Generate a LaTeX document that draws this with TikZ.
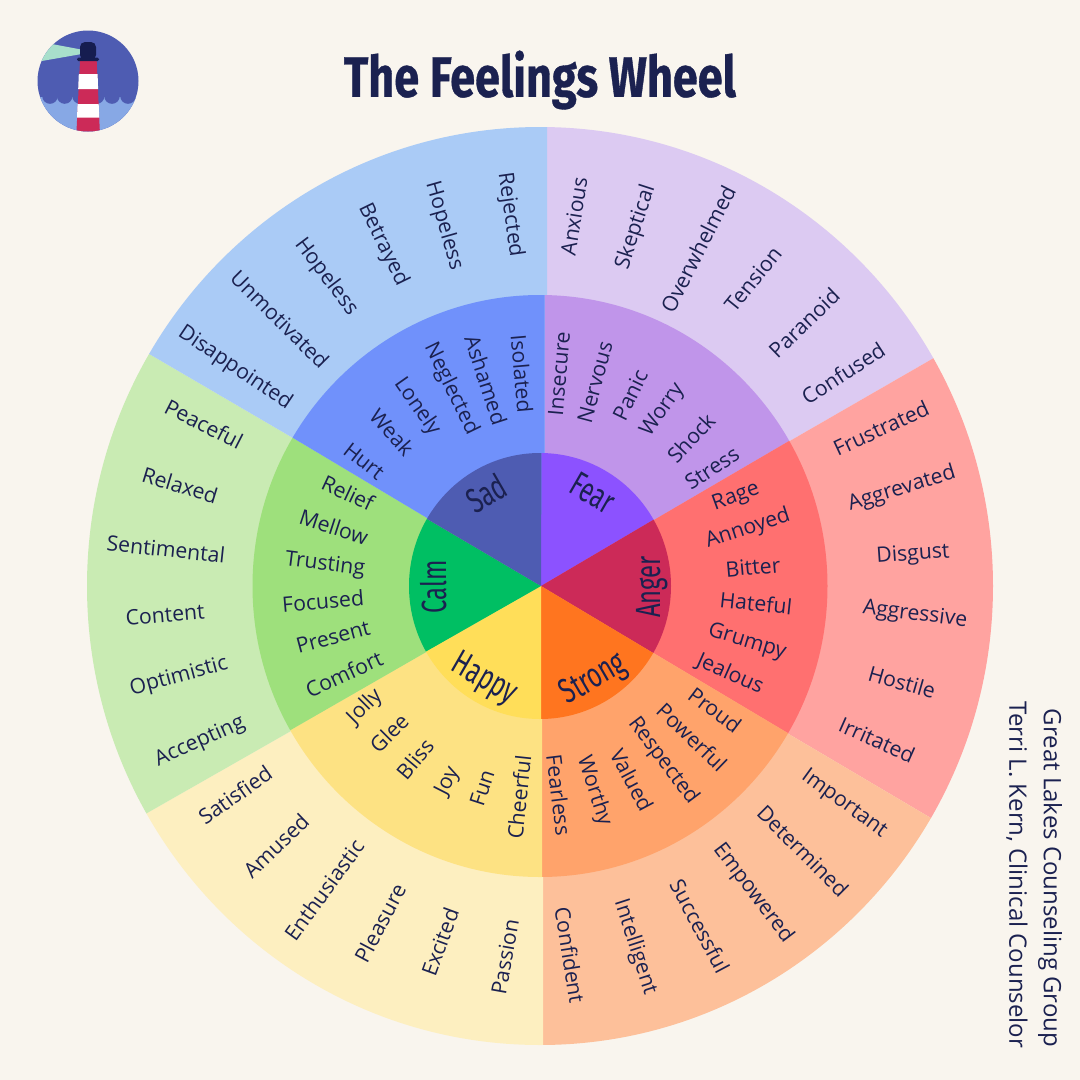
\documentclass[tikz,border=0pt]{standalone}
\usepackage{fontspec}
\setmainfont{Open Sans}
\newfontfamily\titlefont[FakeStretch=0.79,FakeBold=0.6]{Fira Sans Bold}
\newfontfamily\corefont[FakeStretch=0.68]{Fira Sans}
\definecolor{bg}{HTML}{F9F5EE}
\definecolor{ink}{HTML}{1B2150}
\definecolor{fearA}{HTML}{DCCAF2}\definecolor{fearB}{HTML}{C095EA}\definecolor{fearC}{HTML}{8C52FF}
\definecolor{angerA}{HTML}{FFA3A0}\definecolor{angerB}{HTML}{FF7070}\definecolor{angerC}{HTML}{CC2A58}
\definecolor{strongA}{HTML}{FDC09A}\definecolor{strongB}{HTML}{FFA36B}\definecolor{strongC}{HTML}{FF751F}
\definecolor{happyA}{HTML}{FDEFC0}\definecolor{happyB}{HTML}{FDE283}\definecolor{happyC}{HTML}{FFDE59}
\definecolor{calmA}{HTML}{C9EBB3}\definecolor{calmB}{HTML}{9EE07C}\definecolor{calmC}{HTML}{00BF63}
\definecolor{sadA}{HTML}{AACBF6}\definecolor{sadB}{HTML}{7091FB}\definecolor{sadC}{HTML}{4E5CB2}
\definecolor{logoLight}{HTML}{87A8E5}\definecolor{logoBeam}{HTML}{A8DFCB}\definecolor{logoDark}{HTML}{161D50}
\tikzset{
  word/.style={text=ink,inner sep=0pt,font=\fontsize{21.2}{24}\selectfont},
  core/.style={text=ink,inner sep=0pt,font=\corefont\fontsize{35}{38}\selectfont},
  side/.style={text=ink,inner sep=0pt,rotate=-90,font=\fontsize{24}{28}\selectfont},
  headline/.style={text=ink,inner sep=0pt,font=\titlefont\fontsize{57}{60}\selectfont}
}
\newcommand{\Wd}[5]{\node[word,rotate=#4] (#1) at (#2,#3) {#5};}
\newcommand{\Cr}[5]{\node[core,rotate=#4] (#1) at (#2,#3) {#5};}
\begin{document}
\begin{tikzpicture}[x=1pt,y=-1pt]
\useasboundingbox (0,0) rectangle (1080,1080);
\fill[bg] (0,0) rectangle (1080,1080);
% outer ring
\begin{scope}
\clip (540,586) ellipse [x radius=453pt,y radius=459pt];
\fill[fearA] (547,586) -- (547,-100) -- (1300,-100) -- (1300,147) -- (788,442) -- cycle;
\fill[angerA] (540,586) -- (788,442) -- (1300,147) -- (1300,1036) -- (787,733) -- cycle;
\fill[strongA] (543,586) -- (787,733) -- (1300,1036) -- (1300,1200) -- (543,1200) -- cycle;
\fill[happyA] (543,586) -- (543,1200) -- (-200,1200) -- (-200,1011) -- (291,731) -- cycle;
\fill[calmA] (540,586) -- (291,731) -- (-200,1011) -- (-200,150) -- (293,438) -- cycle;
\fill[sadA] (547,586) -- (540,586) -- (293,438) -- (-200,150) -- (-200,-100) -- (547,-100) -- cycle;
\end{scope}
% middle ring
\begin{scope}
\clip (540,586) ellipse [x radius=287.5pt,y radius=291pt];
\fill[fearB] (544.5,586) -- (544.5,250) -- (850,250) -- (818,424) -- (541,586) -- cycle;
\fill[angerB] (541,586) -- (818,424) -- (900,424) -- (900,751) -- (818,751) -- cycle;
\fill[strongB] (542,586) -- (541,586) -- (818,751) -- (818,920) -- (542,920) -- cycle;
\fill[happyB] (542,586) -- (542,920) -- (261,920) -- (261,747) -- (541,586) -- cycle;
\fill[calmB] (541,586) -- (261,747) -- (200,747) -- (200,420) -- (263,420) -- cycle;
\fill[sadB] (544.5,586) -- (541,586) -- (263,420) -- (263,250) -- (544.5,250) -- cycle;
\end{scope}
% inner disc
\begin{scope}
\clip (540,586) ellipse [x radius=131pt,y radius=133pt];
\fill[fearC] (541,586) -- (541.5,440) -- (690,440) -- (675,507) -- cycle;
\fill[angerC] (541,586) -- (675,507) -- (690,507) -- (690,666) -- (675,666) -- cycle;
\fill[strongC] (541,586) -- (675,666) -- (675,730) -- (541,730) -- cycle;
\fill[happyC] (541,586) -- (541,730) -- (404,730) -- (404,664) -- cycle;
\fill[calmC] (541,586) -- (404,664) -- (395,664) -- (395,506) -- (405,506) -- cycle;
\fill[sadC] (541,586) -- (405,506) -- (405,440) -- (541.5,440) -- cycle;
\end{scope}
% logo
\begin{scope}
\clip (88,81) circle [radius=50.5pt];
\fill[sadC] (30,20) rectangle (150,140);
\fill[logoLight] (30,97) rectangle (150,140);
\foreach \cx in {50,64.7,80,96.7,112,128} \fill[sadC] (\cx,96) circle [radius=7.8pt];
\fill[logoBeam] (53.3,44.3) -- (80,49.3) -- (80,54.3) -- (41.7,61) -- (30,61) -- (30,44.3) -- cycle;
\fill[angerC] (80,61) -- (96.7,61) -- (100,135) -- (76.3,135) -- cycle;
\fill[white] (78.8,74) -- (97.6,74) -- (98.1,89) -- (78.2,89) -- cycle;
\fill[white] (77.6,104) -- (98.7,104) -- (99.2,117.7) -- (77,117.7) -- cycle;
\fill[logoDark,rounded corners=5pt] (80,42) rectangle (96,60);
\fill[logoDark,rounded corners=1.5pt] (77,57.5) rectangle (99,61);
\end{scope}
% title and credits
\node[headline] (title) at (540,80) {The Feelings Wheel};
\node[side] (credit1) at (1050,878) {Great Lakes Counseling Group};
\node[side] (credit2) at (1017,875) {Terri L. Kern, Clinical Counselor};
% core feelings
\Cr{sad}{486}{493}{30}{Sad}
\Cr{fear}{593}{493}{-30}{Fear}
\Cr{anger}{652}{587}{90}{Anger}
\Cr{strong}{594}{680}{30}{Strong}
\Cr{happy}{484}{680}{-30}{Happy}
\Cr{calm}{434}{587}{90}{Calm}
% fear
\Wd{fa1}{574}{216}{81}{Anxious}
\Wd{fa2}{636}{227}{72}{Skeptical}
\Wd{fa3}{698}{249}{63}{Overwhelmed}
\Wd{fa4}{753}{279}{51}{Tension}
\Wd{fa5}{804}{323}{44}{Paranoid}
\Wd{fa6}{843}{373}{33}{Confused}
\Wd{fb1}{559}{374}{85}{Insecure}
\Wd{fb2}{595}{382}{75}{Nervous}
\Wd{fb3}{630}{395}{64}{Panic}
\Wd{fb4}{663}{410}{55}{Worry}
\Wd{fb5}{691}{438}{47}{Shock}
\Wd{fb6}{712}{468}{33}{Stress}
% anger
\Wd{aa1}{881}{428}{25}{Frustrated}
\Wd{aa2}{902}{489}{17}{Aggrevated}
\Wd{aa3}{913}{555}{4}{Disgust}
\Wd{aa4}{915}{615}{-7}{Aggressive}
\Wd{aa5}{902}{682}{-16}{Hostile}
\Wd{aa6}{877}{740}{-24}{Irritated}
\Wd{ab1}{736}{497}{20}{Rage}
\Wd{ab2}{748}{529}{18}{Annoyed}
\Wd{ab3}{753}{567}{5}{Bitter}
\Wd{ab4}{756}{603}{-6}{Hateful}
\Wd{ab5}{747}{642}{-17}{Grumpy}
\Wd{ab6}{730}{674}{-24}{Jealous}
% strong
\Wd{sa1}{844}{804}{-36}{Important}
\Wd{sa2}{803}{851}{-45}{Determined}
\Wd{sa3}{753}{893}{-53}{Empowered}
\Wd{sa4}{700}{926}{-62}{Successful}
\Wd{sa5}{635}{947}{-72}{Intelligent}
\Wd{sa6}{570}{955}{-81}{Confident}
\Wd{sb1}{715}{710}{-37}{Proud}
\Wd{sb2}{692}{737}{-44}{Powerful}
\Wd{sb3}{663}{761}{-53}{Respected}
\Wd{sb4}{632}{780}{-62}{Valued}
\Wd{sb5}{594}{791}{-72}{Worthy}
\Wd{sb6}{559}{795}{-83}{Fearless}
% happy
\Wd{ha1}{235}{795}{35}{Satisfied}
\Wd{ha2}{276}{846}{44}{Amused}
\Wd{ha3}{324}{890}{54}{Enthusiastic}
\Wd{ha4}{380}{923}{62}{Pleasure}
\Wd{ha5}{440}{942}{70}{Excited}
\Wd{ha6}{505}{957}{80}{Passion}
\Wd{hb1}{365}{707}{45}{Jolly}
\Wd{hb2}{389}{733}{45}{Glee}
\Wd{hb3}{415}{759}{50}{Bliss}
\Wd{hb4}{448}{781}{63}{Joy}
\Wd{hb5}{482}{788}{72}{Fun}
\Wd{hb6}{519}{797}{84}{Cheerful}
% calm
\Wd{ca1}{204}{424}{-27}{Peaceful}
\Wd{ca2}{180}{485}{-17}{Relaxed}
\Wd{ca3}{166}{549}{-6}{Sentimental}
\Wd{ca4}{165}{615}{5}{Content}
\Wd{ca5}{179}{677}{15}{Optimistic}
\Wd{ca6}{200}{742}{24}{Accepting}
\Wd{cb1}{348}{493}{-25}{Relief}
\Wd{cb2}{334}{527}{-18}{Mellow}
\Wd{cb3}{325}{565}{-7}{Trusting}
\Wd{cb4}{323}{601}{5}{Focused}
\Wd{cb5}{333}{637}{15}{Present}
\Wd{cb6}{344}{674}{25}{Comfort}
% sad
\Wd{da1}{510}{215}{-82}{Rejected}
\Wd{da2}{444}{226}{-74}{Hopeless}
\Wd{da3}{383}{245}{-64}{Betrayed}
\Wd{da4}{326}{277}{-53}{Hopeless}
\Wd{da5}{280}{319}{-45}{Unmotivated}
\Wd{da6}{235}{368}{-34}{Disappointed}
\Wd{db1}{522}{374}{-85}{Isolated}
\Wd{db2}{486}{380}{-72}{Ashamed}
\Wd{db3}{451}{389}{-64}{Neglected}
\Wd{db4}{417}{407}{-55}{Lonely}
\Wd{db5}{392}{432}{-48}{Weak}
\Wd{db6}{364}{461}{-38}{Hurt}
\end{tikzpicture}
\end{document}
